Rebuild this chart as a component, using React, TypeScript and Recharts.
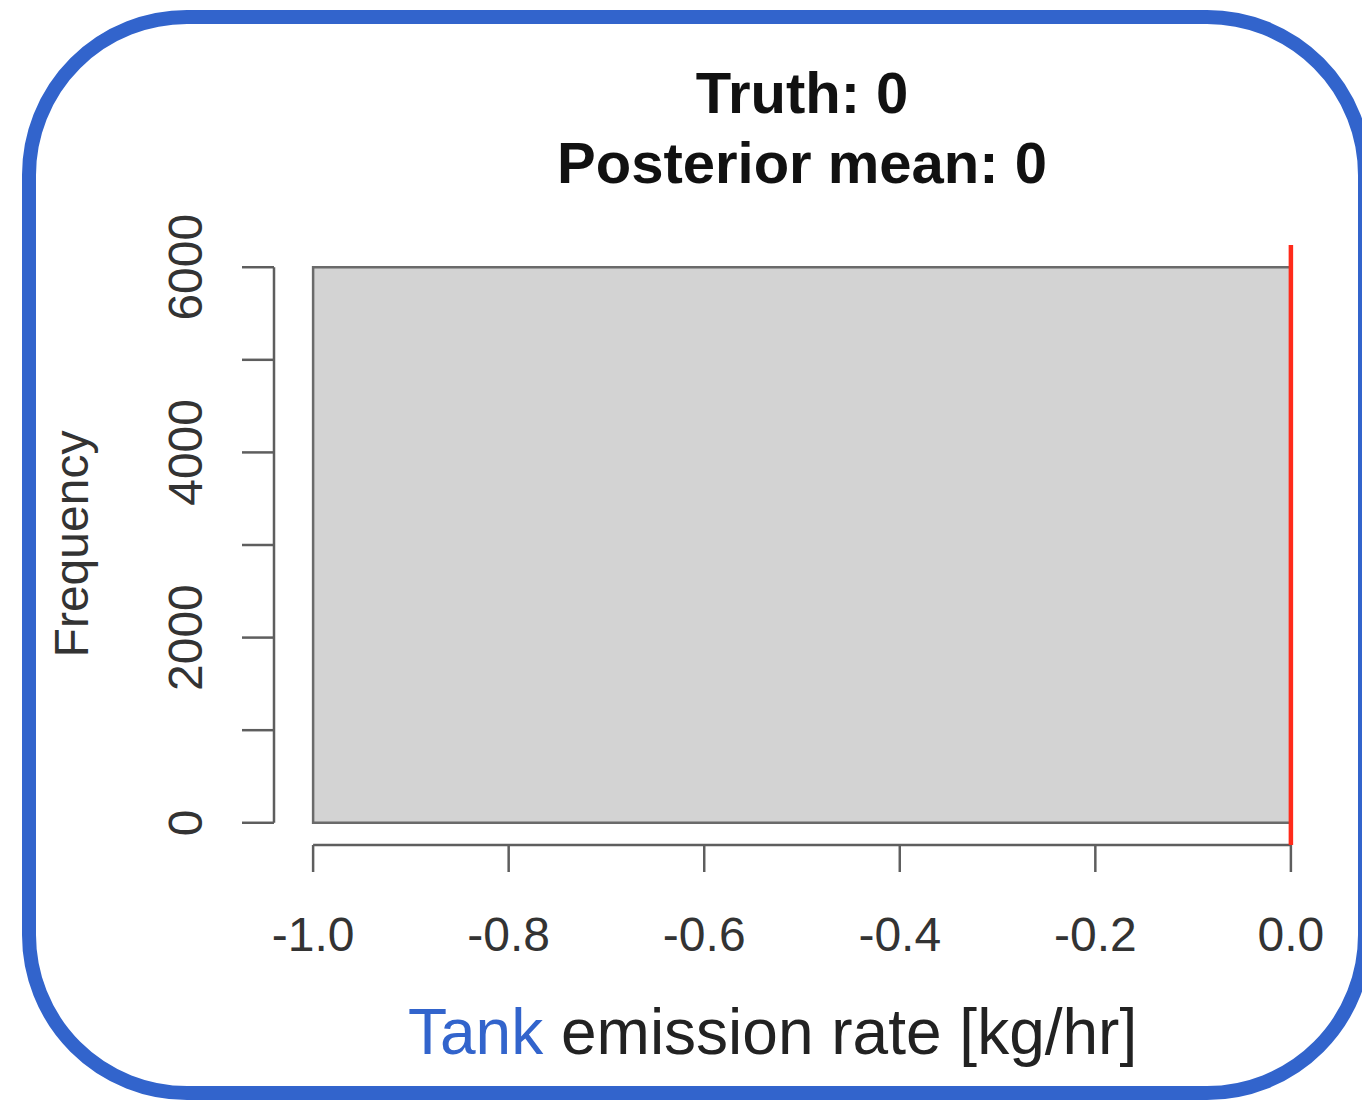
import { ComposedChart, XAxis, YAxis, ReferenceArea, ReferenceLine, Label } from "recharts";

// histogram bins (left edge, right edge, count)
const binStarts = [-1.0];
const binEnds = [0.0];
const binCounts = [6000];

const xTicks = [-1.0, -0.8, -0.6, -0.4, -0.2, 0.0];
const yTicks = [0, 1000, 2000, 3000, 4000, 5000, 6000];
const yLabelled = [0, 2000, 4000, 6000];

const truthValue = 0;
const posteriorMean = 0;

// R pads the plot region by 4% on each side
const xDomain = [-1.04, 0.04];
const yDomain = [-240, 6240];

const bins = binStarts.map((start, i) => ({ start, end: binEnds[i], count: binCounts[i], mid: (start + binEnds[i]) / 2 }));

const FONT = "'Liberation Sans', Arial, Helvetica, sans-serif";
const BLUE = "#3264cc";
const AXIS = "#5e5e5e";

const YTick = (props: any) => {
  const { x, y, payload } = props;
  if (!yLabelled.includes(payload.value)) return null;
  return (
    <text
      x={x}
      y={y}
      transform={`rotate(-90, ${x}, ${y})`}
      textAnchor="middle"
      fontSize={48}
      fontFamily={FONT}
      fill="#333"
    >
      {payload.value}
    </text>
  );
};

export default function App() {
  return (
    <div style={{ position: "absolute", left: 0, top: 0, width: 1362, height: 1102, background: "#fff", overflow: "hidden" }}>
      <div
        style={{
          position: "absolute",
          left: 22,
          top: 10,
          width: 1350,
          height: 1090,
          boxSizing: "border-box",
          border: `14px solid ${BLUE}`,
          borderRadius: 165,
        }}
      />
      <div style={{ position: "absolute", left: 302, width: 1000, top: 64, textAlign: "center", fontFamily: FONT, fontWeight: "bold", fontSize: 58, lineHeight: "57px", color: "#111" }}>
        Truth: {truthValue}
      </div>
      <div style={{ position: "absolute", left: 302, width: 1000, top: 134, textAlign: "center", fontFamily: FONT, fontWeight: "bold", fontSize: 58, lineHeight: "57px", color: "#111" }}>
        Posterior mean: {posteriorMean}
      </div>
      <div style={{ position: "absolute", left: 408, top: 1000, fontFamily: FONT, fontSize: 64, lineHeight: "64px", color: "#222", whiteSpace: "nowrap" }}>
        <span style={{ color: BLUE }}>Tank</span> emission rate [kg/hr]
      </div>
      <div style={{ position: "absolute", left: 0, top: 0 }}>
        <ComposedChart width={1362} height={1102} data={bins} margin={{ top: 245, right: 32, bottom: 137, left: 164 }}>
          <XAxis
            dataKey="mid"
            type="number"
            domain={xDomain}
            ticks={xTicks}
            allowDataOverflow
            axisLine={false}
            tickLine={{ stroke: AXIS, strokeWidth: 2.5 }}
            tickSize={27}
            tickMargin={45}
            height={120}
            tickFormatter={(v: number) => v.toFixed(1)}
            tick={{ fontSize: 48, fill: "#333", fontFamily: FONT }}
            interval={0}
          />
          <YAxis
            type="number"
            domain={yDomain}
            ticks={yTicks}
            allowDataOverflow
            axisLine={false}
            tickLine={{ stroke: AXIS, strokeWidth: 2.5 }}
            tickSize={32}
            tickMargin={40}
            width={110}
            tick={<YTick />}
            interval={0}
          >
            <Label
              content={(props: any) => {
                const vb = props.viewBox || { x: 164, y: 245, height: 600 };
                const cx = vb.x - 76;
                const cy = 544;
                return (
                  <text x={cx} y={cy} transform={`rotate(-90, ${cx}, ${cy})`} textAnchor="middle" fontSize={48} fontFamily={FONT} fill="#333">
                    Frequency
                  </text>
                );
              }}
            />
          </YAxis>
          {bins.map((b, i) => (
            <ReferenceArea
              key={i}
              x1={b.start}
              x2={b.end}
              y1={0}
              y2={b.count}
              fill="#d3d3d3"
              fillOpacity={1}
              stroke="#6a6a6a"
              strokeWidth={2.5}
              ifOverflow="visible"
            />
          ))}
          {/* R-style axis lines spanning first to last tick only */}
          <ReferenceLine
            segment={[{ x: xTicks[0], y: yDomain[0] }, { x: xTicks[xTicks.length - 1], y: yDomain[0] }]}
            stroke={AXIS}
            strokeWidth={2.5}
            ifOverflow="visible"
          />
          <ReferenceLine
            segment={[{ x: xDomain[0], y: yTicks[0] }, { x: xDomain[0], y: yTicks[yTicks.length - 1] }]}
            stroke={AXIS}
            strokeWidth={2.5}
            ifOverflow="visible"
          />
          <ReferenceLine x={truthValue} stroke="#ff2a1a" strokeWidth={4.5} ifOverflow="visible" />
        </ComposedChart>
      </div>
    </div>
  );
}
